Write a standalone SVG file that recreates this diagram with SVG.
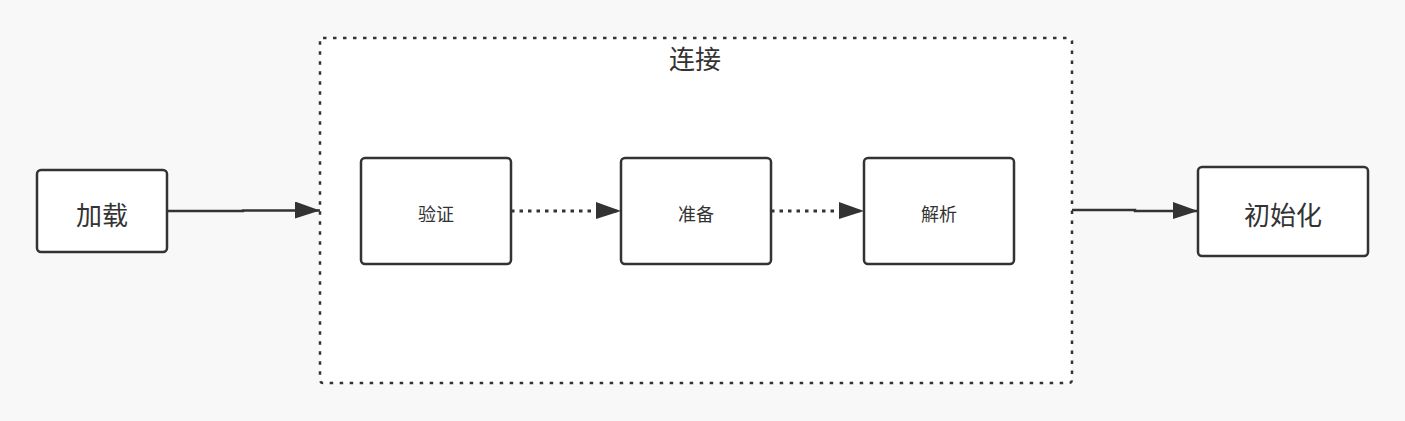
<svg xmlns="http://www.w3.org/2000/svg" width="1405" height="421" viewBox="0 0 1405 421">
<defs>
<marker id="ah" markerWidth="26" markerHeight="18" refX="25" refY="9" orient="auto" markerUnits="userSpaceOnUse">
<path d="M0,0 L25,9 L0,17 Z" fill="#333"/>
</marker>
<style>
.box{fill:#fff;stroke:#333;stroke-width:2.5}
.t{font-family:"Noto Sans CJK SC","Noto Sans",sans-serif;fill:#333;text-anchor:middle;dominant-baseline:central}
.big{font-size:26px}
.small{font-size:18px}
.solid{fill:none;stroke:#333;stroke-width:2.5}
.dot{fill:none;stroke:#333;stroke-width:3;stroke-dasharray:3.5,5}
</style>
</defs>
<rect width="1405" height="421" fill="#f8f8f8"/>
<g id="container">
<rect x="320" y="38" width="752" height="345" rx="3" fill="#fff" stroke="#333" stroke-width="2.5" stroke-dasharray="3.5,6.5"/>
<text class="t" x="695" y="57" font-size="26">连接</text>
</g>
<g id="load"><rect class="box" x="37" y="170" width="130" height="82" rx="4"/><text class="t big" x="102" y="213">加载</text></g>
<g id="verify"><rect class="box" x="361" y="158" width="150" height="106" rx="4"/><text class="t small" x="436" y="213">验证</text></g>
<g id="prepare"><rect class="box" x="621" y="158" width="150" height="106" rx="4"/><text class="t small" x="696" y="213">准备</text></g>
<g id="resolve"><rect class="box" x="864" y="158" width="150" height="106" rx="4"/><text class="t small" x="939" y="213">解析</text></g>
<g id="init"><rect class="box" x="1198" y="167" width="170" height="89" rx="4"/><text class="t big" x="1283" y="213">初始化</text></g>
<g id="connectors">
<path class="solid" d="M167,211 L243,211 L243,210.5 L320,210.5" marker-end="url(#ah)"/>
<path class="dot" d="M511,211 L621,211" marker-end="url(#ah)"/>
<path class="dot" d="M771,211 L864,211" marker-end="url(#ah)"/>
<path class="solid" d="M1072,210 L1135,210 L1135,211 L1198,211" marker-end="url(#ah)"/>
</g>
</svg>
